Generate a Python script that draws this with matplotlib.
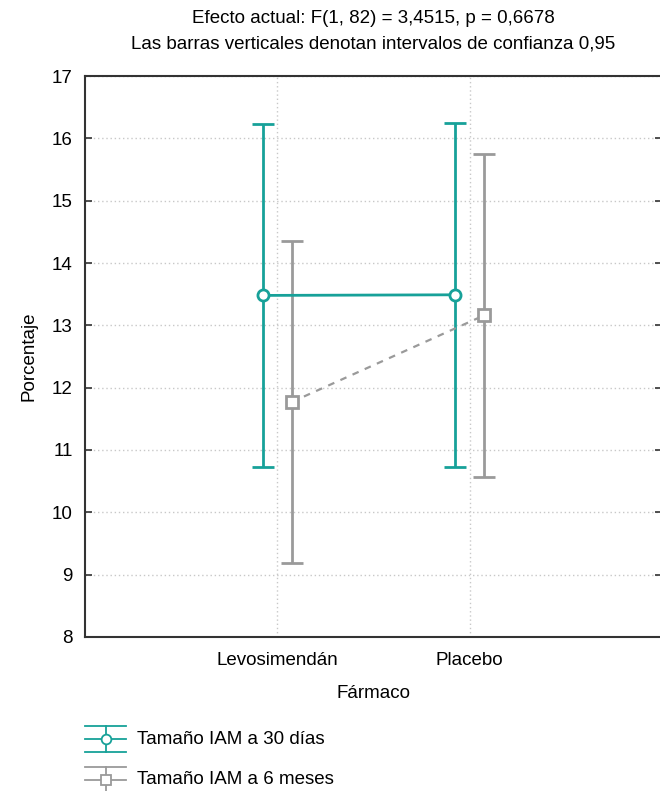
import numpy as np
import matplotlib.pyplot as plt
from matplotlib.lines import Line2D

plt.rcParams['font.family'] = ['Liberation Sans', 'DejaVu Sans']

farmacos = ['Levosimendán', 'Placebo']
medias_30d = [13.48, 13.49]
li_30d = [10.72, 10.73]
ls_30d = [16.23, 16.25]
medias_6m = [11.77, 13.16]
li_6m = [9.18, 10.56]
ls_6m = [14.35, 15.75]
etiquetas = ['Tamaño IAM a 30 días', 'Tamaño IAM a 6 meses']

teal = '#17a199'
gris = '#9a9a9a'
fs = 13.5


def dibuja_serie(ax, x, medias, li, ls, color, marker, estilo, lw):
    medias = np.array(medias)
    yerr = [medias - np.array(li), np.array(ls) - medias]
    ax.errorbar(x, medias, yerr=yerr, color=color, ecolor=color, elinewidth=2,
                capsize=8, capthick=2, linestyle=estilo, linewidth=lw,
                marker=marker, markersize=8, markerfacecolor='white',
                markeredgecolor=color, markeredgewidth=2, zorder=3)


fig = plt.figure(figsize=(6.6, 7.91), dpi=100)
ax = fig.add_axes([0.1288, 0.1947, 0.8742, 0.7092])

pos = np.arange(1, len(farmacos) + 1)
dibuja_serie(ax, pos - 0.075, medias_30d, li_30d, ls_30d, teal, 'o', '-', 2)
dibuja_serie(ax, pos + 0.075, medias_6m, li_6m, ls_6m, gris, 's', (0, (3, 3)), 1.6)

ax.set_xlim(0, 3)
ax.set_ylim(8, 17)
ax.set_xticks(pos)
ax.set_xticklabels(farmacos, fontsize=fs)
ax.set_yticks(np.arange(8, 18))
ax.tick_params(axis='y', labelsize=fs, direction='in', length=5, width=1.2,
               color='#333333', pad=9, right=True)
ax.tick_params(axis='x', length=0, pad=11)
ax.grid(True, linestyle=(0, (1, 2)), color='#c8c8c8', linewidth=1)
ax.set_axisbelow(True)
for s in ax.spines.values():
    s.set_color('#333333')
    s.set_linewidth(1.5)

ax.set_xlabel('Fármaco', fontsize=fs, labelpad=11)
ax.set_ylabel('Porcentaje', fontsize=fs, labelpad=10)
ax.set_title('Efecto actual: F(1, 82) = 3,4515, p = 0,6678\n'
             'Las barras verticales denotan intervalos de confianza 0,95',
             fontsize=fs, linespacing=1.6, pad=20)

# leyenda dibujada a mano
for i, (lab, col, mk) in enumerate(zip(etiquetas, [teal, gris], ['o', 's'])):
    yc = 1 - (739 + 41 * i) / 791
    dy = 13 / 791
    x0, x1 = 85 / 660, 126 / 660
    xm = (x0 + x1) / 2
    for yy in (yc - dy, yc, yc + dy):
        fig.add_artist(Line2D([x0, x1], [yy, yy], color=col, lw=1.3))
    fig.add_artist(Line2D([xm, xm], [yc - dy, yc + dy], color=col, lw=1.3))
    fig.add_artist(Line2D([xm], [yc], marker=mk, markersize=7, color=col,
                          markerfacecolor='white', markeredgewidth=1.3))
    fig.text(137 / 660, yc, lab, fontsize=fs, va='center', ha='left')

fig.savefig('out.png', dpi=100)
